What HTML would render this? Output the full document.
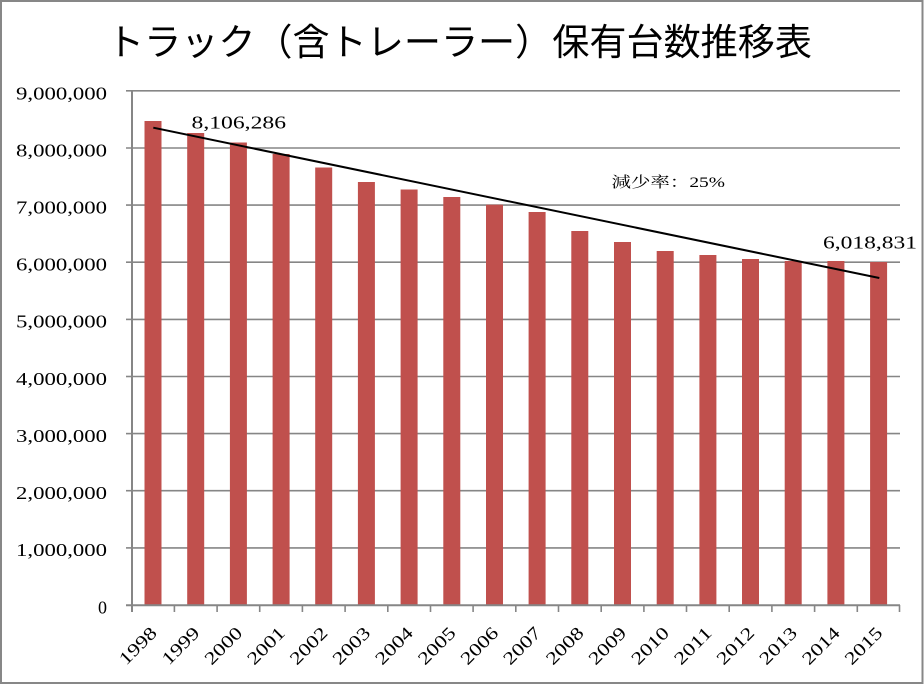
<!DOCTYPE html>
<html>
<head>
<meta charset="utf-8">
<style>
  html, body { margin: 0; padding: 0; background: #fff; }
  body { width: 924px; height: 685px; overflow: hidden; }
  svg { display: block; }
  .num { font-family: "Liberation Serif", "DejaVu Serif", serif; fill: #000; }
  .jp { font-family: "Liberation Sans", "Noto Sans CJK JP", sans-serif; fill: #000; }
</style>
</head>
<body>
<svg width="924" height="685" viewBox="0 0 924 685" xmlns="http://www.w3.org/2000/svg">
  <!-- outer border -->
  <rect x="1" y="1" width="921.5" height="682" fill="#fff" stroke="#878787" stroke-width="2"/>

  <!-- title -->
  <text class="jp" x="107" y="55" font-size="37" textLength="705" lengthAdjust="spacingAndGlyphs">トラック（含トレーラー）保有台数推移表</text>

  <!-- gridlines -->
  <g stroke="#868686" stroke-width="1.6">
    <line x1="126" y1="90.8" x2="900" y2="90.8"/>
    <line x1="126" y1="148.0" x2="900" y2="148.0"/>
    <line x1="126" y1="205.1" x2="900" y2="205.1"/>
    <line x1="126" y1="262.2" x2="900" y2="262.2"/>
    <line x1="126" y1="319.4" x2="126" y2="319.4"/>
    <line x1="126" y1="319.4" x2="132" y2="319.4"/>
    <line x1="126" y1="376.5" x2="132" y2="376.5"/>
    <line x1="126" y1="433.6" x2="132" y2="433.6"/>
    <line x1="126" y1="490.7" x2="132" y2="490.7"/>
    <line x1="126" y1="547.9" x2="132" y2="547.9"/>
  </g>
  <g stroke="#868686" stroke-width="1.6">
    <line x1="132" y1="319.4" x2="900" y2="319.4"/>
    <line x1="132" y1="376.5" x2="900" y2="376.5"/>
    <line x1="132" y1="433.6" x2="900" y2="433.6"/>
    <line x1="132" y1="490.7" x2="900" y2="490.7"/>
    <line x1="132" y1="547.9" x2="900" y2="547.9"/>
  </g>

  <!-- y axis labels -->
  <g class="num" font-size="18" text-anchor="end">
    <text x="107" y="99.3" textLength="91" lengthAdjust="spacingAndGlyphs">9,000,000</text>
    <text x="107" y="156.3" textLength="91" lengthAdjust="spacingAndGlyphs">8,000,000</text>
    <text x="107" y="213.4" textLength="91" lengthAdjust="spacingAndGlyphs">7,000,000</text>
    <text x="107" y="270.5" textLength="91" lengthAdjust="spacingAndGlyphs">6,000,000</text>
    <text x="107" y="327.7" textLength="91" lengthAdjust="spacingAndGlyphs">5,000,000</text>
    <text x="107" y="384.8" textLength="91" lengthAdjust="spacingAndGlyphs">4,000,000</text>
    <text x="107" y="441.9" textLength="91" lengthAdjust="spacingAndGlyphs">3,000,000</text>
    <text x="107" y="499.0" textLength="91" lengthAdjust="spacingAndGlyphs">2,000,000</text>
    <text x="107" y="556.2" textLength="91" lengthAdjust="spacingAndGlyphs">1,000,000</text>
    <text x="107" y="613.3">0</text>
  </g>

  <!-- bars -->
  <g fill="#C0504D">
    <rect x="144.5" y="121" width="17" height="484"/>
    <rect x="187.2" y="133" width="17" height="472"/>
    <rect x="229.9" y="142.5" width="17" height="462.5"/>
    <rect x="272.6" y="154" width="17" height="451"/>
    <rect x="315.2" y="167.5" width="17" height="437.5"/>
    <rect x="357.9" y="182" width="17" height="423"/>
    <rect x="400.6" y="189.5" width="17" height="415.5"/>
    <rect x="443.3" y="197" width="17" height="408"/>
    <rect x="486" y="204.7" width="17" height="400.3"/>
    <rect x="528.6" y="212" width="17" height="393"/>
    <rect x="571.3" y="231" width="17" height="374"/>
    <rect x="614" y="242" width="17" height="363"/>
    <rect x="656.7" y="251" width="17" height="354"/>
    <rect x="699.4" y="255" width="17" height="350"/>
    <rect x="742" y="259" width="17" height="346"/>
    <rect x="784.7" y="261" width="17" height="344"/>
    <rect x="827.4" y="261" width="17" height="344"/>
    <rect x="870.1" y="262" width="17" height="343"/>
  </g>

  <!-- axes -->
  <g stroke="#868686" stroke-width="2">
    <line x1="132" y1="90" x2="132" y2="612"/>
    <line x1="126" y1="605.2" x2="900" y2="605.2"/>
  </g>
  <g stroke="#868686" stroke-width="1.6">
    <line x1="174.4" y1="605" x2="174.4" y2="612"/>
    <line x1="217.1" y1="605" x2="217.1" y2="612"/>
    <line x1="259.7" y1="605" x2="259.7" y2="612"/>
    <line x1="302.4" y1="605" x2="302.4" y2="612"/>
    <line x1="345.1" y1="605" x2="345.1" y2="612"/>
    <line x1="387.8" y1="605" x2="387.8" y2="612"/>
    <line x1="430.5" y1="605" x2="430.5" y2="612"/>
    <line x1="473.1" y1="605" x2="473.1" y2="612"/>
    <line x1="515.8" y1="605" x2="515.8" y2="612"/>
    <line x1="558.5" y1="605" x2="558.5" y2="612"/>
    <line x1="601.2" y1="605" x2="601.2" y2="612"/>
    <line x1="643.9" y1="605" x2="643.9" y2="612"/>
    <line x1="686.5" y1="605" x2="686.5" y2="612"/>
    <line x1="729.2" y1="605" x2="729.2" y2="612"/>
    <line x1="771.9" y1="605" x2="771.9" y2="612"/>
    <line x1="814.6" y1="605" x2="814.6" y2="612"/>
    <line x1="857.3" y1="605" x2="857.3" y2="612"/>
    <line x1="899.5" y1="605" x2="899.5" y2="612"/>
  </g>

  <!-- trend line -->
  <line x1="153.3" y1="127.7" x2="879.3" y2="278" stroke="#000" stroke-width="2"/>

  <!-- data labels -->
  <text class="num" x="191.5" y="128.5" font-size="18" textLength="94.5" lengthAdjust="spacingAndGlyphs">8,106,286</text>
  <text class="num" x="823" y="248.5" font-size="18" textLength="94" lengthAdjust="spacingAndGlyphs">6,018,831</text>
  <text x="611.5" y="187" font-size="15" textLength="113.5" lengthAdjust="spacingAndGlyphs" style="font-family:'Liberation Serif','Noto Serif CJK SC','Noto Sans CJK JP',serif">減少率：25%</text>

  <!-- x axis labels -->
  <g class="num" font-size="18" text-anchor="end">
    <text transform="translate(158,634) rotate(-45)" textLength="45" lengthAdjust="spacingAndGlyphs">1998</text>
    <text transform="translate(200.7,634) rotate(-45)" textLength="45" lengthAdjust="spacingAndGlyphs">1999</text>
    <text transform="translate(243.4,634) rotate(-45)" textLength="45" lengthAdjust="spacingAndGlyphs">2000</text>
    <text transform="translate(286.1,634) rotate(-45)" textLength="45" lengthAdjust="spacingAndGlyphs">2001</text>
    <text transform="translate(328.7,634) rotate(-45)" textLength="45" lengthAdjust="spacingAndGlyphs">2002</text>
    <text transform="translate(371.4,634) rotate(-45)" textLength="45" lengthAdjust="spacingAndGlyphs">2003</text>
    <text transform="translate(414.1,634) rotate(-45)" textLength="45" lengthAdjust="spacingAndGlyphs">2004</text>
    <text transform="translate(456.8,634) rotate(-45)" textLength="45" lengthAdjust="spacingAndGlyphs">2005</text>
    <text transform="translate(499.5,634) rotate(-45)" textLength="45" lengthAdjust="spacingAndGlyphs">2006</text>
    <text transform="translate(542.1,634) rotate(-45)" textLength="45" lengthAdjust="spacingAndGlyphs">2007</text>
    <text transform="translate(584.8,634) rotate(-45)" textLength="45" lengthAdjust="spacingAndGlyphs">2008</text>
    <text transform="translate(627.5,634) rotate(-45)" textLength="45" lengthAdjust="spacingAndGlyphs">2009</text>
    <text transform="translate(670.2,634) rotate(-45)" textLength="45" lengthAdjust="spacingAndGlyphs">2010</text>
    <text transform="translate(712.9,634) rotate(-45)" textLength="45" lengthAdjust="spacingAndGlyphs">2011</text>
    <text transform="translate(755.5,634) rotate(-45)" textLength="45" lengthAdjust="spacingAndGlyphs">2012</text>
    <text transform="translate(798.2,634) rotate(-45)" textLength="45" lengthAdjust="spacingAndGlyphs">2013</text>
    <text transform="translate(840.9,634) rotate(-45)" textLength="45" lengthAdjust="spacingAndGlyphs">2014</text>
    <text transform="translate(883.6,634) rotate(-45)" textLength="45" lengthAdjust="spacingAndGlyphs">2015</text>
  </g>
</svg>
</body>
</html>
